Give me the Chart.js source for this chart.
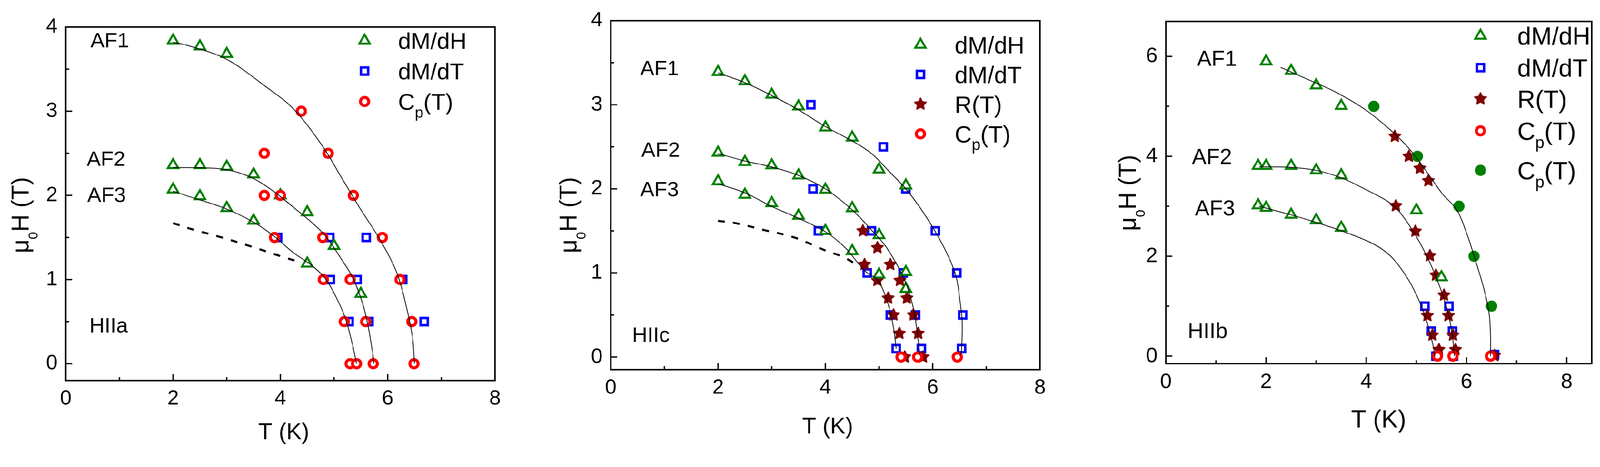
<!DOCTYPE html>
<html>
<head>
<meta charset="utf-8">
<script src="https://cdn.jsdelivr.net/npm/chart.js@4.4.1/dist/chart.umd.min.js"></script>
<style>
  html, body { margin: 0; padding: 0; background: #fff; overflow: hidden; }
  #page { width: 4257px; height: 1195px; position: relative; transform-origin: 0 0; }
  canvas { position: absolute; top: 0; }
</style>
</head>
<body>
<div id="page">
<canvas id="hIIa" width="1420" height="1195" style="left:0px"></canvas>
<canvas id="hIIc" width="1420" height="1195" style="left:1420px"></canvas>
<canvas id="hIIb" width="1417" height="1195" style="left:2840px"></canvas>
</div>
<script>
// tick values
const xMajor = [0, 2, 4, 6, 8];
const xMinor = [1, 3, 5, 7];
const yMajorAC = [0, 1, 2, 3, 4];
const yMinorAC = [0.5, 1.5, 2.5, 3.5];
const yMajorB = [0, 2, 4, 6];
const yMinorB = [1, 3, 5];

// ---- HIIa : [T (K), mu0H (T)] ----
const a_dMdH = [[2, 3.84], [2.5, 3.77], [3, 3.68],
  [2, 2.36], [2.5, 2.36], [3, 2.34], [3.5, 2.25], [4, 2.0], [4.5, 1.8], [5, 1.4], [5.5, 0.83],
  [2, 2.07], [2.5, 1.99], [3, 1.85], [3.5, 1.7], [4.5, 1.19]];
const a_dMdT = [[3.95, 1.5], [4.92, 1.5], [5.6, 1.5], [4.93, 1.0], [5.43, 1.0], [6.28, 1.0],
  [5.28, 0.5], [5.65, 0.5], [6.68, 0.5]];
const a_Cp = [[4.39, 3.0], [3.7, 2.5], [4.89, 2.5], [3.7, 2.0], [4.0, 2.0], [5.36, 2.0],
  [3.89, 1.5], [4.79, 1.5], [5.9, 1.5], [4.8, 1.0], [5.3, 1.0], [6.23, 1.0],
  [5.19, 0.5], [5.59, 0.5], [6.45, 0.5], [5.3, 0], [5.42, 0], [5.73, 0], [6.49, 0]];
const a_fit1 = [[2, 3.82], [2.28, 3.78], [2.99, 3.62], [3.71, 3.3], [4.24, 3.03], [4.78, 2.59],
  [5.14, 2.21], [5.49, 1.84], [5.85, 1.48], [6.17, 1.08], [6.35, 0.67], [6.46, 0.32], [6.5, 0]];
const a_fit2 = [[2, 2.33], [2.28, 2.33], [2.81, 2.32], [3.17, 2.28], [3.53, 2.19], [3.89, 2.04],
  [4.24, 1.86], [4.6, 1.67], [4.85, 1.51], [5.14, 1.24], [5.35, 1.02], [5.53, 0.72],
  [5.64, 0.43], [5.73, 0.08], [5.74, 0]];
const a_fit3 = [[2, 2.05], [2.28, 1.99], [2.99, 1.84], [3.53, 1.67], [3.89, 1.51], [4.24, 1.32],
  [4.6, 1.16], [4.85, 1.0], [5.07, 0.75], [5.21, 0.54], [5.32, 0.29], [5.42, 0]];
const a_dash = [[2.0, 1.67], [2.34, 1.6], [2.91, 1.5], [3.47, 1.39], [4.04, 1.27], [4.35, 1.21]];

// ---- HIIc ----
const c_dMdH = [[2, 3.39], [2.5, 3.28], [3, 3.12], [3.5, 2.98], [4, 2.73], [4.5, 2.61], [5, 2.23], [5.5, 2.04],
  [2, 2.43], [2.5, 2.32], [3, 2.28], [3.5, 2.16], [4, 1.99], [4.5, 1.77], [5, 1.45], [5.5, 1.01], [5.5, 0.81],
  [2, 2.09], [2.5, 1.93], [3, 1.83], [3.5, 1.68], [4, 1.5], [4.5, 1.26], [5, 0.98]];
const c_dMdT = [[3.73, 3.0], [5.08, 2.5], [3.77, 2.0], [5.5, 2.0], [3.87, 1.5], [4.86, 1.5], [6.05, 1.5],
  [4.78, 1.0], [5.45, 1.0], [6.45, 1.0], [5.21, 0.5], [5.68, 0.5], [6.56, 0.5],
  [5.32, 0.1], [5.79, 0.1], [6.54, 0.1]];
const c_R = [[4.7, 1.5], [4.97, 1.3], [4.73, 1.1], [5.21, 1.1], [4.97, 0.91], [5.39, 0.91],
  [5.17, 0.7], [5.52, 0.7], [5.27, 0.5], [5.64, 0.5], [5.38, 0.28], [5.73, 0.28], [5.48, 0], [5.82, 0]];
const c_Cp = [[5.41, 0], [5.72, 0], [6.46, 0]];
const c_fit1 = [[2, 3.38], [2.51, 3.26], [3, 3.11], [3.5, 2.94], [4, 2.74], [4.5, 2.57], [4.86, 2.42],
  [5.2, 2.2], [5.5, 2.0], [5.76, 1.78], [6.05, 1.49], [6.29, 1.2], [6.44, 0.95], [6.51, 0.66],
  [6.55, 0.42], [6.54, 0.1], [6.52, 0.02]];
const c_fit2 = [[2, 2.42], [2.51, 2.33], [3, 2.26], [3.5, 2.16], [4, 2.0], [4.5, 1.75], [4.86, 1.51],
  [5.12, 1.32], [5.35, 1.08], [5.5, 0.88], [5.63, 0.61], [5.7, 0.35], [5.76, 0.03]];
const c_fit3 = [[2, 2.06], [2.51, 1.95], [3, 1.79], [3.5, 1.65], [4, 1.49], [4.37, 1.3], [4.63, 1.1],
  [4.78, 1.0], [4.97, 0.92], [5.1, 0.76], [5.2, 0.56], [5.27, 0.35], [5.32, 0.1]];
const c_dash = [[2, 1.62], [2.34, 1.59], [2.86, 1.51], [3.43, 1.42], [3.99, 1.27], [4.33, 1.19], [4.63, 1.08]];

// ---- HIIb ----
const b_dMdH = [[2, 5.9], [2.5, 5.71], [3, 5.42], [3.5, 5.01],
  [1.84, 3.81], [2, 3.81], [2.5, 3.81], [3, 3.72], [3.5, 3.62], [5, 2.92], [5.5, 1.58],
  [1.84, 3.02], [2, 2.97], [2.5, 2.83], [3, 2.72], [3.5, 2.57]];
const b_dMdT = [[5.17, 1.0], [5.65, 1.0], [5.3, 0.5], [5.72, 0.5], [5.39, 0], [5.74, 0], [6.56, 0.03]];
const b_R = [[4.57, 4.4], [4.85, 4.0], [5.07, 3.76], [5.24, 3.51], [4.59, 3.01], [4.98, 2.5],
  [5.27, 2.01], [5.39, 1.62], [5.55, 1.22], [5.22, 0.81], [5.64, 0.81], [5.32, 0.42],
  [5.73, 0.42], [5.45, 0.13], [5.78, 0.13], [6.56, 0.01]];
const b_Cp = [[5.42, 0], [5.73, 0], [6.48, 0]];
const b_CpG = [[4.15, 5.0], [5.02, 4.0], [5.85, 3.0], [6.15, 2.0], [6.5, 1.0]];
const b_fit1 = [[2.29, 5.78], [2.83, 5.54], [3.4, 5.28], [4.0, 4.92], [4.5, 4.51], [4.84, 4.17],
  [5.17, 3.74], [5.51, 3.26], [5.81, 2.92], [6.01, 2.44], [6.18, 1.91], [6.35, 1.34],
  [6.45, 0.86], [6.48, 0.4], [6.48, 0]];
const b_fit2 = [[1.86, 3.79], [2.49, 3.78], [2.99, 3.72], [3.5, 3.57], [4.0, 3.33], [4.44, 3.09],
  [4.67, 2.88], [5.0, 2.39], [5.27, 1.87], [5.47, 1.38], [5.61, 0.95], [5.71, 0.47], [5.76, 0]];
const b_fit3 = [[1.86, 3.0], [2.49, 2.83], [2.99, 2.68], [3.5, 2.51], [4.03, 2.3], [4.33, 2.13],
  [4.57, 1.91], [4.84, 1.53], [5.04, 1.14], [5.17, 0.81], [5.27, 0.47], [5.34, 0.18], [5.37, 0]];

const FONT = "'Liberation Sans', Arial, sans-serif";
const GREEN = '#008000', BLUE = '#0000ff', RED = '#ff0000', MAROON = '#800000';

// the page is laid out at 4257 x 1195; shrink it if the viewport is narrower
const page = document.getElementById('page');
const fitScale = Math.min(1, window.innerWidth / 4257, window.innerHeight / 1195);
if (fitScale < 1) page.style.transform = 'scale(' + fitScale + ')';

function makeStar(color, R) {
  const s = Math.ceil(R * 2 + 6);
  const c = document.createElement('canvas');
  c.width = c.height = s;
  const g = c.getContext('2d');
  g.beginPath();
  for (let i = 0; i < 10; i++) {
    const r = i % 2 ? R * 0.5 : R;
    const a = -Math.PI / 2 + i * Math.PI / 5;
    g.lineTo(s / 2 + r * Math.cos(a), s / 2 + r * Math.sin(a));
  }
  g.closePath();
  g.fillStyle = color;
  g.fill();
  g.lineJoin = 'round';
  g.lineWidth = 3;
  g.strokeStyle = color;
  g.stroke();
  return c;
}
const starImg = makeStar(MAROON, 16.5);

const markStyle = {
  dMdH: { label: 'dM/dH', pointStyle: 'triangle', pointRadius: 16, pointBorderWidth: 5.5, pointBorderColor: GREEN, pointBackgroundColor: '#fff' },
  dMdT: { label: 'dM/dT', pointStyle: 'rect', pointRadius: 13.5, pointBorderWidth: 6.5, pointBorderColor: BLUE, pointBackgroundColor: '#fff' },
  R:    { label: 'R(T)', pointStyle: starImg, pointRadius: 18, pointBorderWidth: 0, pointBorderColor: MAROON, pointBackgroundColor: MAROON },
  Cp:   { label: 'C_p(T)', pointStyle: 'circle', pointRadius: 11, pointBorderWidth: 8, pointBorderColor: RED, pointBackgroundColor: '#fff' },
  CpG:  { label: 'C_p(T)', pointStyle: 'circle', pointRadius: 15, pointBorderWidth: 0, pointBorderColor: GREEN, pointBackgroundColor: GREEN }
};

const pts = a => a.map(p => ({ x: p[0], y: p[1] }));

function fitSet(a, dashed) {
  return {
    data: pts(a), showLine: true, pointRadius: 0, fill: false,
    borderColor: '#000', borderWidth: dashed ? 5.5 : 2,
    borderDash: dashed ? [18, 22] : [], tension: 0.35
  };
}
function markSet(key, a) {
  return Object.assign({ key: key, data: pts(a), showLine: false }, markStyle[key]);
}

const panels = {
  hIIa: {
    box: { left: 175, right: 1317, top: 72, bottom: 1012 },
    xMax: 8, yMin: -0.2, yMax: 4, yMajor: yMajorAC, yMinor: yMinorAC, tickSize: 55,
    notes: [['AF1', 0.46, 3.85], ['AF2', 0.39, 2.44], ['AF3', 0.40, 2.01], ['HIIa', 0.44, 0.46]], noteSize: 56,
    legend: { keys: ['dMdH', 'dMdT', 'Cp'], mx: 970, tx: 1059, rows: [108, 189, 270], size: 62 },
    yTitle: { x: 76, y: 572, size: 64 }, xTitle: { x: 755, y: 1168, size: 61 },
    datasets: [fitSet(a_fit1), fitSet(a_fit2), fitSet(a_fit3), fitSet(a_dash, true),
      markSet('Cp', a_Cp), markSet('dMdH', a_dMdH), markSet('dMdT', a_dMdT)]
  },
  hIIc: {
    box: { left: 205, right: 1347, top: 53, bottom: 983 },
    xMax: 8, yMin: -0.15, yMax: 4, yMajor: yMajorAC, yMinor: yMinorAC, tickSize: 55,
    notes: [['AF1', 0.55, 3.44], ['AF2', 0.57, 2.47], ['AF3', 0.55, 2.0], ['HIIc', 0.40, 0.27]], noteSize: 56,
    legend: { keys: ['dMdH', 'dMdT', 'R', 'Cp'], mx: 1029, tx: 1120, rows: [119, 198, 277, 356], size: 63 },
    yTitle: { x: 114, y: 572, size: 64 }, xTitle: { x: 782, y: 1153, size: 61 },
    datasets: [fitSet(c_fit1), fitSet(c_fit2), fitSet(c_fit3), fitSet(c_dash, true),
      markSet('Cp', c_Cp), markSet('dMdH', c_dMdH), markSet('R', c_R), markSet('dMdT', c_dMdT)]
  },
  hIIb: {
    box: { left: 262, right: 1395, top: 57, bottom: 967 },
    xMax: 8.5, yMin: -0.15, yMax: 6.7, yMajor: yMajorB, yMinor: yMinorB, tickSize: 56,
    notes: [['AF1', 0.62, 5.97], ['AF2', 0.52, 4.0], ['AF3', 0.58, 2.97], ['HIIb', 0.435, 0.52]], noteSize: 58,
    legend: { keys: ['dMdH', 'dMdT', 'R', 'Cp', 'CpG'], mx: 1099, tx: 1197, rows: [95, 180, 263, 348, 453], size: 66 },
    yTitle: { x: 182, y: 513, size: 64 }, xTitle: { x: 828, y: 1137, size: 66 },
    datasets: [fitSet(b_fit1), fitSet(b_fit2), fitSet(b_fit3),
      markSet('Cp', b_Cp), markSet('CpG', b_CpG), markSet('dMdH', b_dMdH), markSet('R', b_R), markSet('dMdT', b_dMdT)]
  }
};

// text with one-letter subscripts written as _x
function drawRich(ctx, text, x, y, size, subScale, subShift, measureOnly) {
  const parts = [];
  for (let i = 0; i < text.length; i++) {
    if (text[i] === '_' && i + 1 < text.length) { parts.push([text[i + 1], true]); i++; }
    else parts.push([text[i], false]);
  }
  let cx = x;
  for (const [ch, sub] of parts) {
    ctx.font = (sub ? size * subScale : size) + 'px ' + FONT;
    if (!measureOnly) ctx.fillText(ch, cx, sub ? y + size * subShift : y);
    cx += ctx.measureText(ch).width;
  }
  return cx - x;
}

function drawMarker(ctx, ds, x, y) {
  if (typeof ds.pointStyle === 'object') {
    const im = ds.pointStyle;
    ctx.drawImage(im, x - im.width / 2, y - im.height / 2);
    return;
  }
  ctx.fillStyle = ds.pointBackgroundColor;
  ctx.strokeStyle = ds.pointBorderColor;
  ctx.lineWidth = ds.pointBorderWidth;
  Chart.helpers.drawPoint(ctx, { pointStyle: ds.pointStyle, radius: ds.pointRadius, borderWidth: ds.pointBorderWidth, rotation: 0 }, x, y);
}

const paperPlugin = {
  id: 'paper',
  afterDraw(chart) {
    const P = panels[chart.canvas.id];
    const { ctx, chartArea: a } = chart;
    const xs = chart.scales.x, ys = chart.scales.y;
    ctx.save();
    // inward tick marks
    ctx.strokeStyle = '#000';
    ctx.lineWidth = 3.5;
    ctx.beginPath();
    xMajor.forEach(v => { const p = xs.getPixelForValue(v); ctx.moveTo(p, a.bottom); ctx.lineTo(p, a.bottom - 17); });
    xMinor.forEach(v => { const p = xs.getPixelForValue(v); ctx.moveTo(p, a.bottom); ctx.lineTo(p, a.bottom - 9); });
    P.yMajor.forEach(v => { const p = ys.getPixelForValue(v); ctx.moveTo(a.left, p); ctx.lineTo(a.left + 17, p); });
    P.yMinor.forEach(v => { const p = ys.getPixelForValue(v); ctx.moveTo(a.left, p); ctx.lineTo(a.left + 9, p); });
    ctx.stroke();
    // frame
    ctx.lineWidth = 4;
    ctx.strokeRect(a.left, a.top, a.right - a.left, a.bottom - a.top);

    ctx.fillStyle = '#000';
    ctx.textAlign = 'left';
    ctx.textBaseline = 'alphabetic';
    // phase labels
    ctx.font = P.noteSize + 'px ' + FONT;
    P.notes.forEach(([t, tx, ty]) => {
      ctx.fillText(t, xs.getPixelForValue(tx), ys.getPixelForValue(ty) + P.noteSize * 0.358);
    });
    // legend
    const L = P.legend;
    L.keys.forEach((k, i) => {
      const ds = chart.data.datasets.find(d => d.key === k);
      drawMarker(ctx, ds, L.mx, L.rows[i]);
      ctx.fillStyle = '#000';
      drawRich(ctx, ds.label, L.tx, L.rows[i] + L.size * 0.36, L.size, 0.66, 0.33);
    });
    // x title
    ctx.font = P.xTitle.size + 'px ' + FONT;
    ctx.textAlign = 'center';
    ctx.fillText('T (K)', P.xTitle.x, P.xTitle.y);
    // y title, rotated
    ctx.textAlign = 'left';
    const T = P.yTitle;
    ctx.translate(T.x, T.y);
    ctx.rotate(-Math.PI / 2);
    const w = drawRich(ctx, '\u03bc_0H (T)', 0, 0, T.size, 0.56, 0.375, true);
    drawRich(ctx, '\u03bc_0H (T)', -w / 2, 0, T.size, 0.56, 0.375);
    ctx.restore();
  }
};

Object.keys(panels).forEach(id => {
  const P = panels[id];
  const cv = document.getElementById(id);
  new Chart(cv, {
    type: 'scatter',
    data: { datasets: P.datasets },
    plugins: [paperPlugin],
    options: {
      responsive: false,
      devicePixelRatio: 1,
      animation: false,
      events: [],
      layout: { padding: { top: P.box.top, right: cv.width - P.box.right, left: 0, bottom: 0 } },
      plugins: { legend: { display: false }, tooltip: { enabled: false } },
      scales: {
        x: {
          type: 'linear', min: 0, max: P.xMax,
          afterBuildTicks: s => { s.ticks = xMajor.map(v => ({ value: v })); },
          afterFit: s => { s.height = cv.height - P.box.bottom; },
          grid: { display: false, drawTicks: false },
          border: { display: false },
          ticks: { color: '#000', padding: 16, maxRotation: 0, font: { family: FONT, size: P.tickSize } }
        },
        y: {
          type: 'linear', min: P.yMin, max: P.yMax,
          afterBuildTicks: s => { s.ticks = P.yMajor.map(v => ({ value: v })); },
          afterFit: s => { s.width = P.box.left; },
          grid: { display: false, drawTicks: false },
          border: { display: false },
          ticks: { color: '#000', padding: 22, font: { family: FONT, size: P.tickSize } }
        }
      }
    }
  });
});
</script>
</body>
</html>
